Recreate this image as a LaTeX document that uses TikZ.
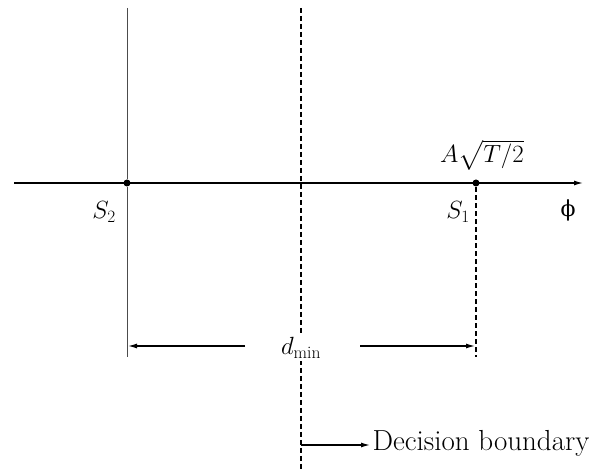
\documentclass[tikz,border=0pt]{standalone}
\usetikzlibrary{arrows.meta}
\usepackage{amsmath}
\usepackage{fontspec}
\newfontfamily\grkfont{DejaVu Serif}

\begin{document}
\begin{tikzpicture}[x=1pt,y=-1pt,>={Latex[length=9pt,width=5pt]},line width=1.2pt]
        \tikzset{dot/.style={circle,fill,inner sep=0pt,minimum size=7pt},
                 lbl/.style={font=\fontsize{25}{30}\selectfont},
                 bound/.style={line width=1.3pt,dash pattern=on 5pt off 3pt}}
        \useasboundingbox (0,0) rectangle (598,473);
        \node[dot] (s2) at (127,183) {};
        \node[dot] (s1) at (476,183) {};
        \coordinate (axl) at (14,183);
        \coordinate (axr) at (583,183);
        \coordinate (s2top) at (127,8);
        \coordinate (s2bot) at (127,357);
        \coordinate (s1bot) at (476,357);
        \coordinate (dbtop) at (301,8);
        \coordinate (dbbot) at (301,471);
        \coordinate (dbarr) at (301,445);
        \coordinate (dl) at (245,346);
        \coordinate (dr) at (360,346);
        \coordinate (dlend) at (128,346);
        \coordinate (drend) at (475,346);
        \node[font=\grkfont\fontsize{22}{26}\selectfont] (phi) at (568,210) {ϕ};
        \node[lbl] (lab2) at (104,212) {$S_2$};
        \node[lbl] (lab1) at (458,212) {$S_1$};
        \node[lbl] (amp) at (482,155) {$A\sqrt{T/2}$};
        \draw[bound] (dbtop) -- (dbbot);
        \node[lbl,fill=white,inner sep=2pt] (dmin) at (301,348) {$d_{\min}$};
        \node[font=\fontsize{29}{34}\selectfont,anchor=west,inner sep=2pt] (db) at (370,443) {Decision boundary};
        \draw[->] (axl) -- (axr);
        \draw[gray!60!black,line width=1pt] (s2top) -- (s2);
        \draw[gray!60!black,line width=1pt] (s2) -- (s2bot);
        \draw[bound] (s1) -- (s1bot);
        \draw[->] (dl) -- (dlend);
        \draw[->] (dr) -- (drend);
        \draw[->] (dbarr) -- (db.west |- dbarr);
\end{tikzpicture}
\end{document}
